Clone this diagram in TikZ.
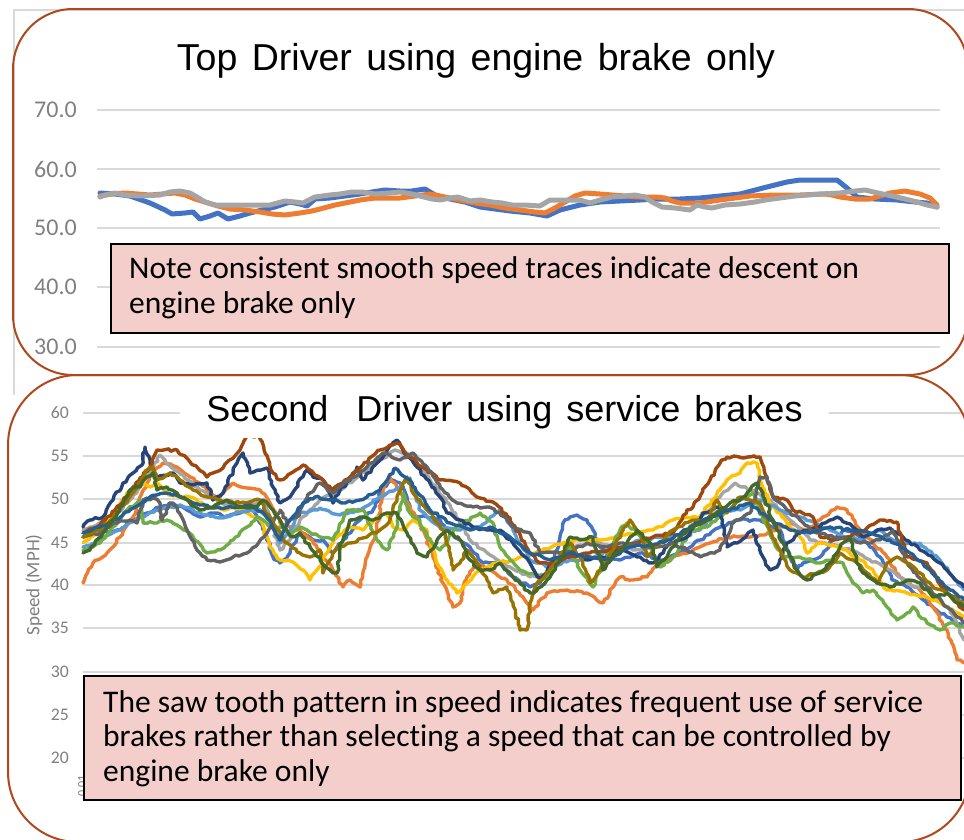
\documentclass[tikz,border=0pt]{standalone}
\usepackage{fontspec}
\setmainfont{Carlito}[Ligatures=NoCommon]
\newfontfamily\headfont{Liberation Sans}[WordSpace=1.4]
\usetikzlibrary{decorations.pathmorphing}

\definecolor{framec}{RGB}{176,72,30}
\definecolor{notefill}{RGB}{243,206,202}
\definecolor{gridc}{RGB}{217,217,217}
\definecolor{axistext}{RGB}{128,128,128}
% Excel-style series palette
\definecolor{s1}{RGB}{68,114,196}
\definecolor{s2}{RGB}{237,125,49}
\definecolor{s3}{RGB}{165,165,165}
\definecolor{s4}{RGB}{255,192,0}
\definecolor{s5}{RGB}{91,155,213}
\definecolor{s6}{RGB}{112,173,71}
\definecolor{s7}{RGB}{38,68,120}
\definecolor{s8}{RGB}{158,72,14}
\definecolor{s9}{RGB}{99,99,99}
\definecolor{s10}{RGB}{153,115,0}
\definecolor{s11}{RGB}{37,94,145}
\definecolor{s12}{RGB}{67,104,43}

\begin{document}
\begin{tikzpicture}[x=1pt,y=-1pt,
  gridline/.style={draw=gridc, line width=1.6pt},
  chartframe/.style={draw=gridc, line width=1.4pt},
  panelbox/.style={draw=framec, line width=2pt, rounded corners=#1},
  toptrace/.style={draw=#1, line width=5pt, line join=round, line cap=round},
  trace/.style={draw=#1, line width=3.4pt, line join=round, line cap=round,
    decorate, decoration={random steps, segment length=3.5pt, amplitude=1.3pt}},
  notebox/.style={draw=black, line width=1.6pt, fill=notefill},
  notetext/.style={anchor=base west, inner sep=0pt, font=\fontsize{31.5}{35}\selectfont},
  ytickA/.style={text=axistext, anchor=east, inner sep=0pt, font=\fontsize{24}{26}\selectfont},
  ytickB/.style={text=axistext, anchor=east, inner sep=0pt, font=\fontsize{17.7}{20}\selectfont},
]
\useasboundingbox (0,0) rectangle (964,839);
\fill[white] (0,0) rectangle (964,839);
\pgfmathsetseed{4242}

% ---------------- upper chart ----------------
\draw[chartframe] (14,395) -- (14,10) -- (964,10);
\foreach \v/\yy in {70.0/110, 60.0/169, 50.0/228, 40.0/287, 30.0/347} {
  \draw[gridline] (97,\yy) -- (940,\yy);
  \node[ytickA] (ta\yy) at (77,\yy) {\v};
}

\draw[toptrace=s1] plot coordinates {(100,193) (115,194) (130,196) (150,203) (165,210) (172,214) (185,213) (193,212) (200,219) (210,216) (218,213) (228,219) (240,216) (250,213) (262,210) (275,207) (290,202) (300,204) (307,206) (315,199) (330,198) (345,196) (360,194) (372,192) (385,190) (400,191) (412,191) (425,189) (435,195) (450,199) (465,202) (480,207) (495,209) (510,211) (530,213) (547,216) (560,210) (580,205) (600,202) (620,201) (640,200) (660,199) (680,199) (700,198) (720,196) (740,194) (763,188) (775,185) (787,182) (800,180) (813,180) (825,180) (837,180) (847,188) (857,197) (875,199) (897,200) (915,202) (927,203) (937,207)};
\draw[toptrace=s2] plot coordinates {(100,196) (112,194) (125,193) (150,195) (175,193) (185,195) (195,199) (205,202) (218,206) (230,209) (245,210) (260,212) (272,214) (285,215) (300,213) (312,211) (320,209) (335,205) (345,203) (360,200) (375,198) (390,198) (400,198) (415,196) (430,194) (445,197) (460,200) (475,203) (490,205) (505,208) (520,210) (535,212) (545,213) (555,208) (565,202) (575,196) (585,193) (600,194) (612,195) (625,196) (640,197) (655,197) (665,198) (672,201) (680,203) (700,203) (720,200) (735,198) (750,196) (775,195) (800,195) (825,194) (832,195) (840,197) (855,199) (870,199) (880,196) (890,193) (905,191) (920,194) (930,198) (937,205)};
\draw[toptrace=s3] plot coordinates {(100,197) (105,195) (115,193) (125,195) (140,196) (160,195) (170,192) (180,191) (190,193) (197,197) (205,202) (215,205) (235,205) (255,205) (270,205) (285,201) (295,202) (303,203) (315,197) (330,195) (340,194) (352,192) (362,192) (375,194) (390,193) (400,192) (412,194) (420,196) (432,199) (440,200) (450,198) (458,197) (470,201) (480,200) (492,202) (502,203) (512,205) (525,205) (540,206) (550,200) (565,200) (580,200) (590,203) (600,200) (612,197) (625,196) (635,195) (645,197) (652,202) (662,207) (675,208) (690,210) (697,205) (705,207) (712,208) (725,205) (740,204) (755,202) (765,200) (780,198) (795,196) (820,194) (840,193) (855,191) (865,190) (878,193) (892,196) (905,199) (917,202) (927,205) (937,207)};

\node[notebox, anchor=north west, minimum width=838pt, minimum height=89pt, inner sep=0pt] (note1) at (110,243) {};
\node[notetext] (note1a) at (129,278) {Note consistent smooth speed traces indicate descent on};
\node[notetext] (note1b) at (129,313) {engine brake only};

\node[anchor=base, inner sep=0pt, font=\headfont\fontsize{37.5}{40}\selectfont] (title1) at (476,70) {Top Driver using engine brake only};

\draw[panelbox=60pt] (13,9) rectangle (968,375);

% ---------------- lower chart ----------------
\foreach \v/\yy in {60/413, 55/456, 50/499, 45/543, 40/585, 35/628, 30/672, 25/715, 20/758} {
  \draw[gridline] (83,\yy) -- (964,\yy);
  \node[ytickB] (tb\v) at (69,\yy) {\v};
}
\node[rotate=90, text=axistext, inner sep=0pt, font=\fontsize{19}{21}\selectfont] (ylab) at (34,585) {Speed (MPH)};
\node[rotate=90, text=axistext, inner sep=0pt, font=\fontsize{12}{13}\selectfont] (xtick) at (82,786) {0.01};

\draw[trace=s1] plot coordinates {(83,537) (100,533) (120,530) (133,520) (147,513) (160,507) (173,503) (187,510) (200,517) (213,513) (227,517) (240,513) (253,510) (260,523) (267,537) (273,557) (280,563) (290,553) (300,533) (313,540) (323,540) (333,553) (343,540) (360,520) (373,510) (383,487) (393,480) (400,483) (407,497) (413,517) (427,517) (440,520) (450,533) (460,540) (470,547) (483,563) (500,563) (513,577) (530,587) (540,583) (550,570) (557,550) (563,523) (570,517) (577,515) (587,520) (593,530) (600,547) (610,557) (620,560) (640,553) (660,560) (680,553) (700,540) (720,527) (740,520) (760,520) (780,530) (790,557) (797,570) (803,563) (820,557) (833,540) (843,530) (857,533) (870,547) (880,557) (893,580) (907,587) (920,597) (933,607) (947,617) (964,627)};
\draw[trace=s2] plot coordinates {(83,583) (93,563) (107,553) (120,537) (133,517) (140,497) (147,483) (153,473) (163,463) (177,467) (190,477) (200,483) (210,493) (220,497) (233,483) (247,488) (260,490) (270,503) (280,523) (290,527) (300,530) (312,540) (322,555) (333,570) (343,587) (350,580) (360,587) (367,557) (377,530) (383,490) (390,477) (400,493) (410,507) (423,530) (433,557) (443,583) (453,607) (460,603) (467,577) (477,563) (490,570) (507,580) (523,597) (533,610) (547,593) (567,590) (587,593) (603,603) (613,587) (620,577) (633,580) (647,577) (660,563) (673,557) (693,550) (710,543) (727,537) (750,537) (765,535) (790,523) (807,530) (820,520) (837,507) (847,510) (860,530) (873,543) (887,557) (900,577) (920,590) (933,607) (947,630) (957,660) (964,663)};
\draw[trace=s3] plot coordinates {(83,530) (110,520) (130,500) (150,473) (160,455) (165,460) (175,470) (200,490) (225,505) (245,507) (263,500) (270,520) (280,550) (290,540) (300,520) (320,500) (340,490) (360,475) (380,460) (395,450) (410,455) (430,480) (450,505) (470,540) (490,555) (510,567) (530,577) (545,575) (560,555) (580,545) (600,543) (620,548) (640,550) (660,543) (680,535) (700,520) (720,497) (735,483) (750,490) (770,500) (790,520) (810,540) (830,545) (850,550) (870,560) (890,570) (910,585) (930,590) (950,610) (964,640)};
\draw[trace=s4] plot coordinates {(83,543) (97,533) (113,517) (127,493) (137,487) (143,483) (150,487) (157,483) (167,493) (180,497) (190,497) (207,507) (223,510) (233,507) (247,513) (260,520) (270,547) (280,560) (293,562) (303,570) (310,580) (317,570) (327,553) (337,537) (350,527) (363,530) (377,517) (387,513) (393,527) (403,530) (413,520) (427,530) (437,563) (447,580) (457,593) (467,583) (480,570) (497,563) (515,560) (535,553) (555,545) (575,540) (600,540) (625,535) (653,530) (673,520) (700,517) (720,490) (727,480) (740,473) (747,463) (757,463) (760,480) (773,507) (787,523) (800,537) (807,553) (820,543) (840,547) (857,557) (873,570) (887,590) (907,593) (927,597) (947,607) (964,617)};
\draw[trace=s5] plot coordinates {(83,547) (100,540) (120,530) (140,517) (160,510) (180,505) (200,513) (220,518) (240,512) (260,510) (270,520) (280,543) (290,530) (300,513) (320,508) (340,515) (360,510) (380,497) (400,487) (410,478) (420,510) (440,527) (460,530) (480,527) (500,510) (513,530) (530,560) (550,567) (570,560) (590,560) (610,550) (640,540) (670,537) (700,530) (720,510) (740,510) (760,500) (780,510) (800,517) (820,525) (840,535) (860,540) (880,530) (900,545) (920,543) (940,560) (964,590)};
\draw[trace=s6] plot coordinates {(83,550) (100,543) (113,527) (127,510) (140,500) (143,523) (157,523) (167,520) (180,527) (193,537) (207,553) (220,550) (233,540) (247,527) (257,517) (263,520) (270,527) (280,527) (290,533) (300,527) (307,530) (320,537) (333,540) (347,510) (363,510) (377,540) (387,550) (397,527) (403,493) (410,513) (420,520) (427,537) (440,550) (457,527) (480,513) (493,523) (500,547) (510,560) (520,570) (547,577) (570,547) (580,570) (593,587) (607,555) (620,530) (627,523) (647,543) (660,567) (673,557) (693,530) (707,527) (720,517) (740,500) (753,493) (763,520) (773,540) (783,557) (800,557) (820,563) (833,560) (843,563) (853,583) (863,593) (873,590) (887,607) (897,620) (907,613) (913,607) (927,623) (940,630) (950,623) (964,627)};
\draw[trace=s7] plot coordinates {(83,527) (90,520) (103,517) (113,500) (123,483) (133,473) (142,465) (145,447) (150,463) (157,477) (173,473) (180,483) (193,485) (207,483) (213,500) (223,493) (237,463) (243,453) (250,473) (267,468) (273,487) (280,503) (290,497) (307,470) (313,477) (323,480) (333,503) (340,490) (350,480) (357,467) (363,480) (377,463) (387,450) (397,440) (403,450) (417,467) (430,483) (440,497) (447,513) (460,520) (473,527) (487,530) (500,530) (513,543) (530,563) (540,580) (547,573) (553,560) (570,553) (587,560) (600,557) (610,557) (620,547) (637,557) (653,563) (670,543) (687,537) (703,513) (720,507) (727,547) (737,543) (753,530) (763,557) (770,570) (777,567) (787,543) (800,533) (817,527) (837,517) (853,527) (863,537) (877,530) (890,528) (903,537) (920,550) (940,563) (953,577) (964,587)};
\draw[trace=s8] plot coordinates {(83,533) (100,525) (120,505) (140,478) (150,467) (157,450) (177,450) (190,462) (207,477) (213,473) (223,468) (240,450) (247,436) (260,436) (273,473) (280,480) (293,472) (303,465) (315,475) (333,490) (345,480) (360,468) (380,450) (397,443) (410,457) (427,470) (440,480) (460,483) (480,498) (493,502) (510,518) (530,553) (540,563) (553,563) (570,557) (590,553) (620,548) (653,537) (673,533) (687,510) (693,507) (710,480) (720,463) (727,457) (750,457) (760,457) (767,480) (773,497) (787,500) (793,510) (813,517) (820,537) (833,540) (847,537) (865,530) (880,520) (897,522) (907,557) (927,563) (947,593) (964,610)};
\draw[trace=s9] plot coordinates {(83,537) (100,533) (113,523) (130,520) (137,523) (143,500) (153,498) (160,503) (162,520) (170,503) (177,507) (187,530) (197,550) (207,560) (220,562) (233,557) (247,553) (257,545) (267,533) (280,510) (287,523) (297,517) (310,493) (320,483) (333,493) (350,480) (367,467) (383,453) (400,460) (413,453) (427,467) (440,487) (457,503) (473,507) (487,507) (500,513) (513,527) (530,533) (540,553) (570,552) (587,543) (607,547) (620,543) (653,547) (673,543) (700,557) (720,550) (733,523) (750,513) (760,477) (767,477) (773,497) (787,510) (800,520) (817,533) (833,537) (850,540) (867,543) (880,540) (893,530) (907,563) (927,587) (947,607) (964,623)};
\draw[trace=s10] plot coordinates {(83,537) (100,530) (120,510) (133,493) (147,470) (153,467) (157,480) (170,473) (180,480) (193,490) (207,497) (220,500) (240,503) (260,500) (273,523) (287,543) (300,553) (310,557) (320,550) (323,573) (330,560) (337,547) (350,543) (367,537) (380,530) (390,520) (397,497) (407,477) (413,493) (420,500) (427,510) (433,517) (443,530) (450,553) (453,570) (460,563) (467,550) (477,563) (487,580) (493,593) (507,587) (513,603) (520,630) (527,630) (530,603) (537,583) (547,573) (570,543) (580,557) (590,583) (600,570) (613,550) (623,530) (630,520) (640,533) (647,557) (660,543) (673,530) (693,520) (707,520) (717,500) (727,513) (740,497) (750,500) (760,503) (770,530) (780,550) (790,570) (803,577) (817,573) (827,570) (840,553) (853,560) (867,573) (877,583) (887,563) (897,557) (907,563) (920,573) (933,587) (947,593) (964,603)};
\draw[trace=s11] plot coordinates {(83,533) (110,523) (130,510) (150,497) (165,493) (180,497) (200,505) (220,508) (240,507) (250,505) (265,515) (280,540) (290,520) (303,503) (315,497) (330,500) (345,503) (360,500) (380,490) (395,468) (410,480) (430,510) (450,523) (470,530) (490,527) (510,537) (530,553) (550,560) (570,553) (590,557) (610,560) (630,547) (650,545) (670,540) (690,527) (710,517) (730,510) (750,503) (770,520) (790,530) (810,533) (830,527) (850,530) (870,533) (890,540) (910,553) (930,570) (950,590) (964,600)};
\draw[trace=s12] plot coordinates {(83,553) (90,550) (103,533) (117,513) (130,490) (140,487) (147,477) (153,473) (157,490) (167,487) (177,493) (190,503) (200,510) (213,507) (227,500) (240,507) (257,507) (263,500) (273,510) (283,527) (293,537) (300,533) (310,547) (320,560) (333,573) (337,573) (340,547) (350,520) (360,517) (373,520) (387,513) (397,513) (407,533) (417,553) (427,557) (437,540) (447,530) (460,540) (470,560) (480,570) (490,570) (500,563) (513,577) (530,593) (533,593) (547,580) (560,560) (570,537) (580,540) (593,537) (603,570) (613,557) (627,543) (637,530) (650,543) (657,567) (667,557) (680,537) (693,527) (707,520) (720,510) (730,503) (740,500) (750,490) (757,483) (763,493) (773,520) (783,543) (797,570) (807,580) (820,573) (830,563) (840,547) (850,537) (857,563) (863,573) (877,583) (890,587) (907,580) (920,583) (933,597) (947,593) (957,603) (964,607)};

% title sits on a white band that masks the top of the plot
\node[fill=white, inner sep=0pt, minimum width=649pt, minimum height=52pt, font=\headfont\fontsize{36}{40}\selectfont] (title2) at (504.5,412) {Second\ \ Driver using service brakes};

\node[notebox, anchor=north west, minimum width=877pt, minimum height=124pt, inner sep=0pt] (note2) at (83,675) {};
\node[notetext] (note2a) at (103,712) {The saw tooth pattern in speed indicates frequent use of service};
\node[notetext] (note2b) at (103,746) {brakes rather than selecting a speed that can be controlled by};
\node[notetext] (note2c) at (103,781) {engine brake only};

\draw[panelbox=70pt] (8,375) rectangle (970,842);
\end{tikzpicture}
\end{document}
